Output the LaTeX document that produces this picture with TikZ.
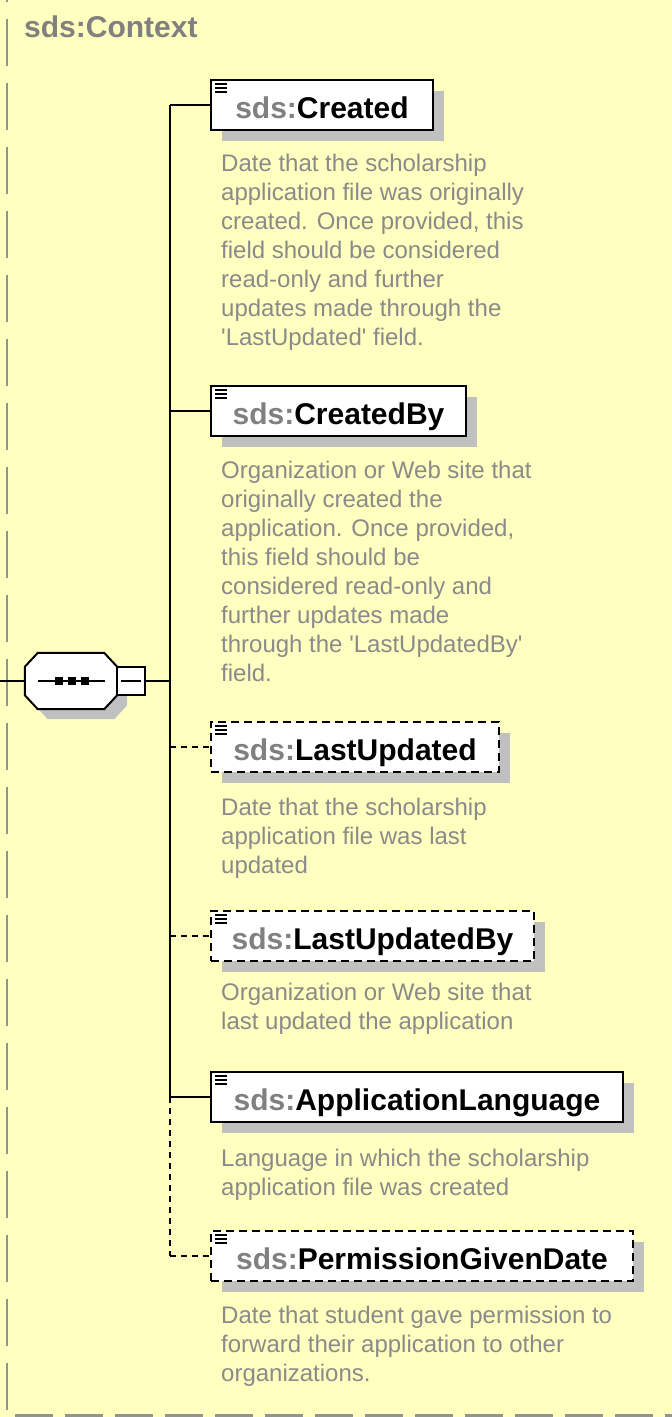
\documentclass[tikz,border=0pt]{standalone}
\usepackage{fontspec}
\setmainfont{Liberation Sans}
\usepackage{xcolor}
\usetikzlibrary{calc}
\usetikzlibrary{positioning}
\usetikzlibrary{shadows}

\definecolor{paper}{HTML}{FFFFC0}
\definecolor{sdsgray}{HTML}{808080}
\definecolor{notegray}{HTML}{8A8A8A}
\definecolor{boxshadow}{HTML}{C0C0C0}

\newcommand{\pfx}{\textcolor{sdsgray}{sds:}}
\newcommand{\titlefont}{\fontsize{30}{34}\selectfont\bfseries}
\newcommand{\notefont}{\fontsize{24}{29}\selectfont}
% octagon of the sequence compositor, #2/#3 = offset
\newcommand{\octpath}[3]{([shift={(#2+13,#3)}]#1.north west) -- ([shift={(#2-13,#3)}]#1.north east)
  -- ([shift={(#2,#3+14)}]#1.north east) -- ([shift={(#2,#3-14)}]#1.south east)
  -- ([shift={(#2-13,#3)}]#1.south east) -- ([shift={(#2+13,#3)}]#1.south west)
  -- ([shift={(#2,#3-14)}]#1.south west) -- ([shift={(#2,#3+14)}]#1.north west) -- cycle}

\tikzset{
  wire/.style={line width=2pt},
  optwire/.style={wire, dash pattern=on 6pt off 5pt},
  frame/.style={draw=sdsgray!85, line width=2pt},
  elembox/.style={draw, line width=2pt, fill=white, anchor=west,
    minimum height=50pt, inner xsep=0pt, inner ysep=0pt,
    text height=26pt, text depth=0pt, font=\titlefont,
    drop shadow={shadow xshift=11pt, shadow yshift=-11pt, fill=boxshadow, opacity=1}},
  optbox/.style={elembox, dash pattern=on 8pt off 5pt},
  note/.style={anchor=north west, align=left, inner sep=0pt, text=notegray, font=\notefont},
  seqbox/.style={minimum width=92pt, minimum height=56pt, inner sep=0pt},
  foldbox/.style={draw, line width=2pt, fill=white, minimum size=28pt, inner sep=0pt},
}

\begin{document}
\begin{tikzpicture}[x=1pt, y=-1pt]
  \def\tx{170}
  \def\bx{210}
  \def\nx{221}

  \fill[paper] (0,0) rectangle (672,1417);
  \useasboundingbox (0,0) rectangle (672,1417);

  % outer frame of sds:Context
  \draw[frame, dash pattern=on 47pt off 17pt, dash phase=45pt] (7,0) -- (7,1412);
  \draw[frame, line width=3pt, dash pattern=on 37.5pt off 12.5pt] (15,1415.5) -- (672,1415.5);

  \node[anchor=base west, inner sep=0pt, text=sdsgray, font=\titlefont] (ctx) at (24,37) {sds:Context};

  % sequence
  \node[seqbox] (seq) at (71,681) {};
  \fill[boxshadow] \octpath{seq}{10}{10};
  \draw[wire, fill=white] \octpath{seq}{0}{0};
  \draw[wire] ([xshift=-33pt]seq.center) -- ([xshift=34pt]seq.center);
  \foreach \d in {-12,1,14}
    \fill ([xshift=\d pt]seq.center) +(-4,-4) rectangle +(4,4);

  \node[foldbox] (fold) at (131,681) {};
  \draw[wire] ([xshift=5pt]fold.west) -- ([xshift=-5pt]fold.east);

  \coordinate (entry) at (0,681);
  \coordinate (hub) at (\tx,681);
  \draw[wire] (entry) -- (seq.west);
  \draw[wire] (fold.east) -- (hub);

  % children
  \node[elembox, minimum width=222pt] (created) at (\bx,105) {\pfx Created};
  \node[elembox, minimum width=255pt] (createdBy) at (\bx,411) {\pfx CreatedBy};
  \node[optbox, minimum width=288pt] (lastUpd) at (\bx,747) {\pfx LastUpdated};
  \node[optbox, minimum width=323pt] (lastUpdBy) at (\bx,936) {\pfx LastUpdatedBy};
  \node[elembox, minimum width=412pt] (appLang) at (\bx,1097) {\pfx ApplicationLanguage};
  \node[optbox, minimum width=422pt] (permDate) at (\bx,1256) {\pfx PermissionGivenDate};

  \foreach \n in {created, createdBy, lastUpd, lastUpdBy, appLang, permDate}
    \foreach \k in {0,1,2}
      \draw[line width=1.3pt] ([shift={(5,5+4*\k)}]\n.north west) -- ++(12,0);

  \draw[wire] (created.west -| hub) -- (appLang.west -| hub);
  \draw[optwire] (appLang.west -| hub) -- (permDate.west -| hub);
  \foreach \n in {created, createdBy, appLang}
    \draw[wire] (\n.west -| hub) -- (\n.west);
  \foreach \n in {lastUpd, lastUpdBy, permDate}
    \draw[optwire] (\n.west -| hub) -- (\n.west);

  % annotations (top = first baseline - 17.5)
  \node[note] (createdNote) at (\nx,153.5) {Date that the scholarship\\application file was originally\\created. Once provided, this\\field should be considered\\read-only and further\\updates made through the\\\textquotesingle LastUpdated\textquotesingle\ field.};
  \node[note] (createdByNote) at (\nx,460.5) {Organization or Web site that\\originally created the\\application. Once provided,\\this field should be\\considered read-only and\\further updates made\\through the \textquotesingle LastUpdatedBy\textquotesingle\\field.};
  \node[note] (lastUpdNote) at (\nx,797.5) {Date that the scholarship\\application file was last\\updated};
  \node[note] (lastUpdByNote) at (\nx,982.5) {Organization or Web site that\\last updated the application};
  \node[note] (appLangNote) at (\nx,1148.5) {Language in which the scholarship\\application file was created};
  \node[note] (permDateNote) at (\nx,1305.5) {Date that student gave permission to\\forward their application to other\\organizations.};
\end{tikzpicture}
\end{document}
